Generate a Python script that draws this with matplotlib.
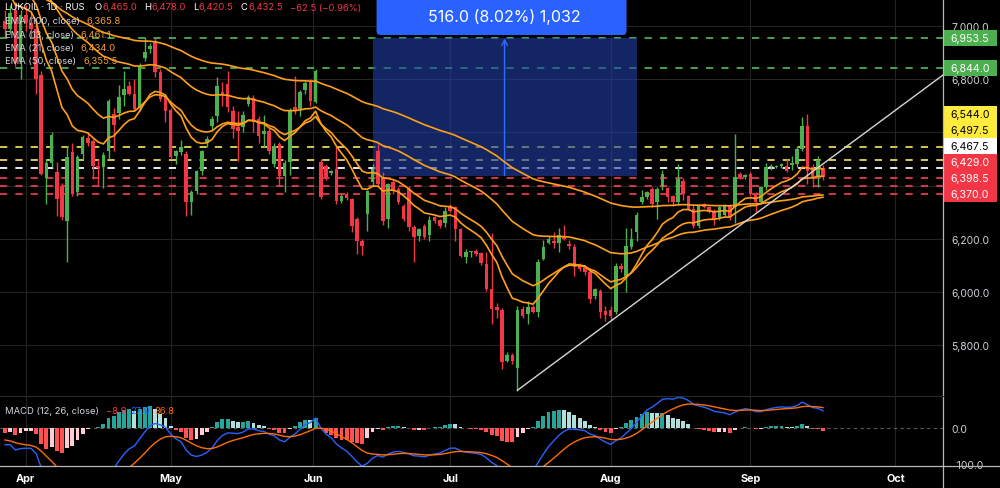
import numpy as np
import pandas as pd
import matplotlib.pyplot as plt
import matplotlib.transforms as mtransforms
from matplotlib.patches import Rectangle, FancyBboxPatch
from matplotlib.lines import Line2D

plt.rcParams['font.family'] = ['Inter', 'DejaVu Sans']

# daily candles, LUKOIL
opens = [7020, 6990, 7060, 6865, 7040, 7010, 6990, 6816, 6428, 6485,
         6450, 6400, 6265, 6526, 6376, 6518, 6580, 6567, 6473, 6470,
         6530, 6669, 6673, 6741, 6774, 6744, 6695, 6880, 6914, 6944,
         6827, 6733, 6684, 6511, 6526, 6518, 6338, 6380, 6455, 6560,
         6624, 6661, 6752, 6782, 6680, 6620, 6620, 6707, 6730, 6650,
         6594, 6605, 6481, 6556, 6436, 6488, 6695, 6688, 6760, 6790,
         6714, 6488, 6473, 6447, 6462, 6342, 6368, 6349, 6274, 6191,
         6293, 6413, 6530, 6432, 6274, 6413, 6387, 6323, 6387, 6244,
         6210, 6248, 6214, 6281, 6270, 6259, 6323, 6319, 6236, 6131,
         6150, 6153, 6146, 6105, 6011, 5943, 5932, 5740, 5762, 5714,
         5935, 5916, 5943, 5924, 6123, 6184, 6191, 6184, 6206, 6180,
         6169, 6097, 6093, 6075, 5984, 6003, 5928, 5932, 5924, 6097,
         6060, 6169, 6225, 6338, 6357, 6387, 6338, 6394, 6390, 6360,
         6338, 6417, 6360, 6311, 6248, 6330, 6319, 6300, 6281, 6290,
         6323, 6319, 6443, 6432, 6443, 6368, 6338, 6394, 6468, 6470,
         6473, 6473, 6478, 6481, 6537, 6624, 6470, 6432, 6465.0]
highs = [7060, 7080, 7090, 7060, 7080, 7050, 7010, 6830, 6500, 6600,
         6490, 6410, 6549, 6560, 6515, 6590, 6600, 6575, 6500, 6525,
         6725, 6690, 6780, 6830, 6795, 6800, 6860, 6958, 6935, 6955,
         6840, 6740, 6690, 6535, 6570, 6530, 6385, 6460, 6535, 6585,
         6660, 6810, 6790, 6830, 6700, 6680, 6680, 6740, 6740, 6660,
         6665, 6615, 6560, 6565, 6495, 6690, 6812, 6760, 6795, 6800,
         6840, 6500, 6480, 6460, 6549, 6370, 6375, 6355, 6280, 6200,
         6385, 6480, 6556, 6450, 6410, 6420, 6395, 6330, 6400, 6250,
         6240, 6255, 6285, 6285, 6275, 6320, 6330, 6325, 6240, 6160,
         6155, 6160, 6150, 6150, 6220, 5960, 5940, 5775, 5770, 5945,
         5945, 5965, 5950, 6125, 6195, 6210, 6225, 6240, 6250, 6195,
         6180, 6110, 6100, 6090, 6015, 6010, 5945, 5945, 6110, 6110,
         6240, 6240, 6300, 6385, 6380, 6395, 6395, 6460, 6395, 6365,
         6480, 6430, 6365, 6330, 6330, 6335, 6325, 6310, 6325, 6330,
         6330, 6594, 6450, 6445, 6450, 6375, 6400, 6485, 6480, 6478,
         6485, 6500, 6510, 6550, 6658, 6669, 6480, 6510, 6478.0]
lows = [6960, 6970, 6850, 6800, 6980, 6960, 6744, 6440, 6330, 6470,
        6285, 6270, 6112, 6360, 6360, 6500, 6550, 6424, 6400, 6390,
        6500, 6530, 6650, 6700, 6740, 6680, 6680, 6870, 6900, 6810,
        6720, 6640, 6500, 6480, 6515, 6285, 6290, 6370, 6440, 6545,
        6610, 6640, 6700, 6675, 6580, 6492, 6600, 6700, 6600, 6560,
        6545, 6520, 6470, 6398, 6376, 6440, 6670, 6660, 6745, 6700,
        6710, 6350, 6420, 6440, 6330, 6335, 6345, 6225, 6142, 6140,
        6230, 6400, 6400, 6250, 6240, 6370, 6330, 6265, 6230, 6112,
        6190, 6200, 6190, 6260, 6240, 6245, 6300, 6190, 6130, 6110,
        6130, 6135, 6100, 6005, 5880, 5900, 5710, 5735, 5730, 5627,
        5900, 5880, 5920, 5905, 6120, 6180, 6165, 6150, 6195, 6160,
        6060, 6080, 6065, 5960, 5975, 5900, 5890, 5895, 5915, 6075,
        6000, 6160, 6190, 6330, 6350, 6320, 6275, 6385, 6340, 6325,
        6330, 6345, 6310, 6240, 6240, 6315, 6295, 6250, 6270, 6285,
        6270, 6260, 6425, 6425, 6360, 6300, 6330, 6385, 6460, 6465,
        6465, 6450, 6460, 6470, 6530, 6406, 6395, 6395, 6420.5]
closes = [6990, 7050, 6860, 7040, 7010, 6990, 6800, 6443, 6485, 6590,
          6350, 6282, 6507, 6368, 6507, 6583, 6560, 6473, 6466, 6515,
          6718, 6628, 6733, 6763, 6744, 6688, 6850, 6902, 6925, 6827,
          6725, 6680, 6507, 6530, 6545, 6338, 6376, 6455, 6530, 6575,
          6650, 6775, 6744, 6695, 6612, 6605, 6665, 6733, 6639, 6586,
          6605, 6530, 6549, 6436, 6485, 6680, 6680, 6752, 6785, 6718,
          6830, 6357, 6432, 6455, 6342, 6360, 6353, 6248, 6191, 6172,
          6379, 6462, 6405, 6266, 6405, 6380, 6338, 6274, 6244, 6206,
          6236, 6206, 6270, 6266, 6248, 6304, 6304, 6236, 6135, 6150,
          6154, 6142, 6108, 6011, 5935, 5932, 5736, 5762, 5740, 5932,
          5910, 5943, 5924, 6112, 6169, 6199, 6184, 6214, 6199, 6172,
          6093, 6086, 6075, 5973, 6011, 5924, 5913, 5909, 6097, 6086,
          6172, 6199, 6289, 6357, 6376, 6330, 6387, 6443, 6357, 6338,
          6424, 6368, 6311, 6248, 6323, 6319, 6300, 6274, 6319, 6323,
          6281, 6432, 6432, 6440, 6368, 6338, 6394, 6470, 6472, 6474,
          6481, 6455, 6484, 6537, 6624, 6455, 6432, 6495, 6432.5]

month_labels = ['Apr', 'May', 'Jun', 'Jul', 'Aug', 'Sep', 'Oct']
month_pos = [4, 32, 59.5, 86, 117, 144, 172]

# EMA periods and the level each one starts from at the left edge
ema_spans = [100, 13, 21, 50]
ema_seeds = [7150, 7150, 7200, 7235]
ema_legend_vals = ['6,365.8', '6,461.1', '6,434.0', '6,355.5']

# horizontal levels drawn on the chart
levels = [6953.5, 6844.0, 6544.0, 6497.5, 6467.5, 6429.0, 6398.5, 6370.0]
level_kind = ['g', 'g', 'y', 'y', 'w', 'r', 'r', 'r']

# price range measurement box
meas_x = [71, 122]
meas_y = [6437.5, 6953.5]
meas_bars = '1,032'

# trend line anchors
trend_x = [99, 183]
trend_y = [5630, 6842]

# MACD start values (12/26 EMAs and signal) and legend readout
macd_seeds = [7110, 7150, -30]
macd_legend_vals = ['\u22128.9', '27.9', '36.8']

GREEN = '#4caf50'
RED = '#f23645'
ORANGE = '#ff9f1a'
TXT = '#d1d4dc'
line_col = {'g': '#4caf50', 'y': '#e6d84e', 'w': '#ffffff', 'r': '#e03c4a'}
box_col = {'g': '#4caf50', 'y': '#ffeb3b', 'w': '#ffffff', 'r': '#f23645'}
box_txt = {'g': 'white', 'y': 'black', 'w': 'black', 'r': 'white'}


def ema(values, span, seed):
    s = pd.Series([seed] + list(values), dtype=float)
    return s.ewm(span=span, adjust=False).mean().to_numpy()[1:]


o = np.array(opens, float)
h = np.array(highs, float)
l = np.array(lows, float)
c = np.array(closes, float)
x = np.arange(len(c))

W, H = 1000, 489
fig = plt.figure(figsize=(W / 100, H / 100), dpi=100, facecolor='black')
ax = fig.add_axes([0, 1 - 396 / H, 943 / W, 396 / H], facecolor='black')
axm = fig.add_axes([0, 1 - 467 / H, 943 / W, 70 / H], facecolor='black', sharex=ax)

ax.set_xlim(-0.97, 181.2)
ax.set_ylim(5612, 7102)
axm.set_ylim(-105.6, 88.9)

# levels
for lv, k in zip(levels, level_kind):
    ax.axhline(lv, color=line_col[k], lw=1.3, ls=(0, (4, 4.5)), zorder=1)

# measurement box
ax.add_patch(Rectangle((meas_x[0], meas_y[0]), meas_x[1] - meas_x[0], meas_y[1] - meas_y[0],
                       facecolor=(0.13, 0.25, 0.65), alpha=0.6, edgecolor='none', zorder=2))
x_mid = (meas_x[0] + meas_x[1]) / 2
ax.annotate('', xy=(x_mid, meas_y[1]), xytext=(x_mid, meas_y[0]),
            arrowprops=dict(arrowstyle='->', color='#2f6bff', lw=1, shrinkA=0, shrinkB=0), zorder=2.5)

# candles
up = c >= o
col = np.where(up, GREEN, RED)
ax.vlines(x, l, h, colors=col, lw=1, zorder=3)
ax.bar(x, np.maximum(np.abs(c - o), 4), bottom=np.minimum(o, c), width=0.7, color=col,
       linewidth=0, zorder=3.1)

# EMAs
for span, seed in zip(ema_spans, ema_seeds):
    ax.plot(x, ema(c, span, seed), color=ORANGE, lw=1.2, zorder=4)

ax.plot(trend_x, trend_y, color='#d6d6d6', lw=1, zorder=5)

# right-side level labels, stacked so they do not overlap
span_px = (ax.get_ylim()[1] - ax.get_ylim()[0]) / 396
lab_h = 16 * span_px
trans = mtransforms.blended_transform_factory(ax.transAxes, ax.transData)
label_pos = []
prev = -1e9
for i in np.argsort(levels):
    p = max(levels[i], prev + lab_h)
    prev = p
    label_pos.append(p)
    k = level_kind[i]
    ax.add_patch(Rectangle((1.0, p - lab_h / 2), 54 / 943, lab_h, transform=trans,
                           facecolor=box_col[k], edgecolor='none', clip_on=False, zorder=6))
    ax.text(1.0 + 27 / 943, p, f'{levels[i]:,.1f}', transform=trans, ha='center', va='center',
            color=box_txt[k], fontsize=7.6, clip_on=False, zorder=7)

# axes styling
for a in (ax, axm):
    for s in a.spines.values():
        s.set_visible(False)
    a.yaxis.tick_right()
    a.tick_params(axis='y', length=0, pad=6, labelcolor=TXT, labelsize=7.4)
    a.grid(True, color='#232323', lw=0.8)
    a.set_axisbelow(True)
price_ticks = [5800, 6000, 6200, 6400, 6600, 6800, 7000]
ax.set_yticks(price_ticks)
# tick labels that sit under a level label are hidden, as on the chart
ax.set_yticklabels(['' if any(abs(t - p) < lab_h / 2 for p in label_pos) else f'{t:,.1f}'
                    for t in price_ticks])
ax.tick_params(axis='x', length=0, labelbottom=False)
axm.grid(True, axis='x', color='#232323', lw=0.8)
axm.grid(False, axis='y')
axm.set_yticks([-100, 0])
axm.yaxis.set_major_formatter(lambda v, p: f'{v:,.1f}'.replace('-', '\u2212'))
axm.set_xticks(month_pos)
axm.set_xticklabels(month_labels, fontweight='bold', color='white', fontsize=7.8)
axm.tick_params(axis='x', length=0, pad=5)

# measurement label on top
xd = ax.transData.transform((x_mid, meas_y[1]))[0]
fig.add_artist(FancyBboxPatch((xd - 128, H - 36), 250, 40, boxstyle='round,pad=0,rounding_size=4',
                              transform=mtransforms.IdentityTransform(), facecolor='#2962ff',
                              edgecolor='none'))
diff = meas_y[1] - meas_y[0]
fig.text(xd / W, 1 - 17 / H, f'{diff:,.1f} ({diff / meas_y[0] * 100:.2f}%) {meas_bars}',
         ha='center', va='center', color='white', fontsize=11.5)


def chain(a, x0, y0, pieces, size=6.8):
    t = a.text(x0, y0, pieces[0][0], color=pieces[0][1], transform=a.transAxes,
               fontsize=size, ha='left', va='center', zorder=8)
    for txt, colr, gap in pieces[1:]:
        t = a.annotate(txt, xy=(1, 0.5), xycoords=t, xytext=(gap, 0), textcoords='offset points',
                       ha='left', va='center', color=colr, fontsize=size, zorder=8)


chg = c[-1] - c[-2]
chain(ax, 5 / 943, 1 - 8 / 396, [
    ('LUKOIL \u00b7 1D \u00b7 RUS', 'white'),
    ('O', 'white', 7), (f'{o[-1]:,.1f}', RED, 0.5),
    ('H', 'white', 5), (f'{h[-1]:,.1f}', RED, 0.5),
    ('L', 'white', 5), (f'{l[-1]:,.1f}', RED, 0.5),
    ('C', 'white', 5), (f'{c[-1]:,.1f}', RED, 0.5),
    (f'{chg:.1f} ({chg / c[-2] * 100:.2f}%)'.replace('-', '\u2212'), RED, 5)])
for j, (span, val) in enumerate(zip(ema_spans, ema_legend_vals)):
    chain(ax, 5 / 943, 1 - (21.5 + 13.5 * j) / 396,
          [(f'EMA ({span}, close)', TXT), (val, '#f0a030', 5)])

# MACD
e12 = ema(c, 12, macd_seeds[0])
e26 = ema(c, 26, macd_seeds[1])
macd = e12 - e26
signal = ema(macd, 9, macd_seeds[2])
hist = macd - signal
prev_h = np.concatenate([[hist[0]], hist[:-1]])
hcol = np.where(hist >= 0, np.where(hist >= prev_h, '#26a69a', '#b2dfdb'),
                np.where(hist <= prev_h, '#ff5252', '#ffcdd2'))
axm.axhline(0, color='#5a5a5a', lw=0.8, ls=(0, (3, 3)), zorder=1)
axm.bar(x, hist, width=0.75, color=hcol, linewidth=0, zorder=3)
axm.plot(x, macd, color='#2962ff', lw=1, zorder=4)
axm.plot(x, signal, color='#ff6d00', lw=1, zorder=4)
chain(axm, 5 / 943, (467 - 412) / 70, [
    ('MACD (12, 26, close)', TXT),
    (macd_legend_vals[0], RED, 5),
    (macd_legend_vals[1], '#2962ff', 3),
    (macd_legend_vals[2], '#ff6d00', 3)])

# pane borders
xr = ax.get_position().x1
fig.add_artist(Line2D([xr, xr], [0, 1], color='#b8b8b8', lw=0.9))
fig.add_artist(Line2D([0, 1], [1 - 467 / H] * 2, color='#b8b8b8', lw=0.9))
fig.add_artist(Line2D([0, xr], [1 - 397 / H] * 2, color='#2a2a2a', lw=0.8))

fig.savefig('out.png', dpi=100, facecolor='black')
